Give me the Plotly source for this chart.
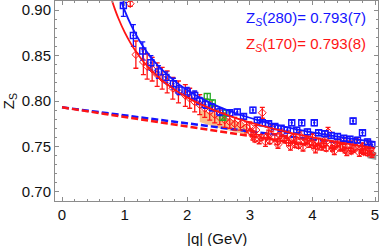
import plotly.graph_objects as go

# ---------------- data ----------------
blue_q = [0.98, 1.14, 1.29, 1.42, 1.54, 1.66, 1.78, 1.87, 2.0, 2.12, 2.2, 2.29, 2.4, 2.52,
          2.68, 2.8, 2.9, 3.05, 3.12, 3.2, 3.3, 3.4, 3.5, 3.6, 3.67, 3.75, 3.83, 3.92, 4.03,
          4.1, 4.2, 4.3, 4.4, 4.5, 4.6, 4.65, 4.72, 4.8, 4.88, 4.95]
blue_z = [0.905, 0.872, 0.855, 0.842, 0.832, 0.826, 0.819, 0.812, 0.810, 0.806, 0.800, 0.796,
          0.793, 0.788, 0.787, 0.788, 0.783, 0.790, 0.779, 0.776, 0.775, 0.772, 0.770, 0.768,
          0.776, 0.768, 0.776, 0.766, 0.776, 0.765, 0.764, 0.762, 0.761, 0.759, 0.758, 0.778,
          0.757, 0.765, 0.755, 0.752]
blue_err = [0.012, 0.012, 0.010, 0.008, 0.007, 0.006, 0.006, 0.005, 0.005, 0.005, 0.004, 0.004,
            0.004, 0.004, 0.003, 0.003, 0.003, 0.003, 0.003, 0.003, 0.003, 0.003, 0.003, 0.003,
            0.003, 0.003, 0.003, 0.003, 0.003, 0.003, 0.003, 0.003, 0.003, 0.003, 0.003, 0.003,
            0.003, 0.003, 0.003, 0.003]

red_q = [1.09, 1.18, 1.30, 1.36, 1.44, 1.52, 1.60, 1.68, 1.77, 1.86, 1.97, 2.04, 2.12, 2.20,
         2.28, 2.36, 2.44, 2.52, 2.60, 2.68, 2.76, 2.85, 2.95, 3.00, 3.05, 3.10, 3.15, 3.20,
         3.25, 3.30, 3.35, 3.40, 3.45, 3.50, 3.55, 3.60, 3.65, 3.70, 3.75, 3.80, 3.85, 3.90,
         3.95, 4.00, 4.05, 4.10, 4.15, 4.20, 4.25, 4.30, 4.35, 4.40, 4.45, 4.50, 4.55, 4.60,
         4.65, 4.70, 4.75, 4.80, 4.85, 4.90, 4.95,
         3.02, 3.18, 3.32, 3.48, 3.62, 3.78, 3.92, 4.08, 4.22, 4.38, 4.52, 4.68, 4.82, 4.92,
         3.08, 3.28, 3.44, 3.58, 3.72, 3.88, 4.02, 4.18, 4.32, 4.48, 4.62, 4.78, 4.88]
red_z = [0.907, 0.851, 0.843, 0.838, 0.835, 0.829, 0.825, 0.821, 0.814, 0.810, 0.806, 0.803,
         0.799, 0.796, 0.792, 0.789, 0.785, 0.782, 0.779, 0.777, 0.775, 0.774, 0.771, 0.772,
         0.762, 0.768, 0.758, 0.787, 0.755, 0.764, 0.770, 0.760, 0.752, 0.765, 0.758, 0.763,
         0.750, 0.760, 0.756, 0.762, 0.749, 0.758, 0.753, 0.760, 0.747, 0.755, 0.750, 0.757,
         0.766, 0.752, 0.745, 0.754, 0.749, 0.756, 0.744, 0.752, 0.748, 0.755, 0.743, 0.750,
         0.746, 0.752, 0.742,
         0.766, 0.760, 0.756, 0.762, 0.754, 0.751, 0.756, 0.750, 0.748, 0.752, 0.746, 0.749,
         0.744, 0.747,
         0.758, 0.761, 0.755, 0.757, 0.752, 0.755, 0.751, 0.753, 0.748, 0.750, 0.745, 0.748,
         0.743]
red_err = [0.003, 0.015, 0.014, 0.014, 0.013, 0.013, 0.012, 0.012, 0.012, 0.012, 0.012, 0.011,
           0.011, 0.011, 0.010, 0.010, 0.009, 0.008, 0.008, 0.007, 0.007, 0.006, 0.006, 0.005,
           0.005, 0.005, 0.005, 0.006, 0.005, 0.004, 0.004, 0.004, 0.004, 0.004, 0.004, 0.004,
           0.004, 0.004, 0.004, 0.004, 0.004, 0.004, 0.004, 0.004, 0.004, 0.004, 0.004, 0.004,
           0.005, 0.004, 0.004, 0.004, 0.004, 0.004, 0.004, 0.004, 0.004, 0.004, 0.004, 0.004,
           0.004, 0.004, 0.004,
           0.003, 0.003, 0.003, 0.003, 0.003, 0.003, 0.003, 0.003, 0.003, 0.003, 0.003, 0.003,
           0.003, 0.003,
           0.003, 0.003, 0.003, 0.003, 0.003, 0.003, 0.003, 0.003, 0.003, 0.003, 0.003, 0.003,
           0.003]

green_q = [2.32, 2.40, 2.57, 2.62]
green_z = [0.805, 0.798, 0.782, 0.787]
green_err = [0.003, 0.003, 0.002, 0.003]

# fit curves
fit_blue_q = [0.95, 1.0, 1.1, 1.2, 1.3, 1.4, 1.5, 1.6, 1.8, 2.0, 2.2, 2.5, 2.8, 3.2, 3.6, 4.0, 4.5, 5.0]
fit_blue_z = [0.9088, 0.8997, 0.8839, 0.8707, 0.8595, 0.8499, 0.8415, 0.8342, 0.8219, 0.8120,
              0.8039, 0.7939, 0.7860, 0.7776, 0.7709, 0.7654, 0.7597, 0.7550]
fit_red_q = [0.80, 0.85, 0.9, 1.0, 1.1, 1.2, 1.3, 1.4, 1.5, 1.6, 1.8, 2.0, 2.2, 2.5, 2.8, 3.2, 3.6, 4.0, 4.5, 5.0]
fit_red_z = [0.9100, 0.8999, 0.8910, 0.8757, 0.8631, 0.8525, 0.8435, 0.8356, 0.8288, 0.8227,
             0.8124, 0.8040, 0.7968, 0.7880, 0.7807, 0.7726, 0.7658, 0.7600, 0.7536, 0.7479]

lin_q = [0.0, 5.0]
lin_blue_z = [0.793, 0.749]
lin_red_z = [0.793, 0.7405]

orange_q = [2.2, 2.45, 2.7, 2.95, 2.95, 2.7, 2.45, 2.2]
orange_z = [0.790, 0.786, 0.780, 0.774, 0.763, 0.767, 0.771, 0.777]
gray_q = [4.88, 5.02, 5.02, 4.88]
gray_z = [0.745, 0.744, 0.735, 0.737]

label_blue = "Z<sub><i>S</i></sub>(280)= 0.793(7)"
label_red = "Z<sub><i>S</i></sub>(170)= 0.793(8)"

BLUE = "#1414ff"
RED = "#ff1414"
GREEN = "#22aa22"
FONT = "Liberation Sans, Arial, sans-serif"

fig = go.Figure()

fig.add_trace(go.Scatter(x=orange_q, y=orange_z, fill="toself", mode="lines",
                         line=dict(width=0), fillcolor="rgba(245,170,100,0.75)"))
fig.add_trace(go.Scatter(x=gray_q, y=gray_z, fill="toself", mode="lines",
                         line=dict(width=0), fillcolor="rgba(140,140,140,0.9)"))

fig.add_trace(go.Scatter(x=lin_q, y=lin_blue_z, mode="lines",
                         line=dict(color=BLUE, width=2.5, dash="7px,3px")))
fig.add_trace(go.Scatter(x=lin_q, y=lin_red_z, mode="lines",
                         line=dict(color=RED, width=2.5, dash="7px,3px")))

fig.add_trace(go.Scatter(x=red_q, y=red_z, mode="markers",
                         marker=dict(symbol="diamond-open", size=6, color=RED, line=dict(width=1)),
                         error_y=dict(type="data", array=red_err, color=RED, thickness=1.3, width=2.5)))
fig.add_trace(go.Scatter(x=green_q, y=green_z, mode="markers",
                         marker=dict(symbol="square-open", size=6, color=GREEN, line=dict(width=1.3)),
                         error_y=dict(type="data", array=green_err, color=GREEN, thickness=1.2, width=2)))
fig.add_trace(go.Scatter(x=blue_q, y=blue_z, mode="markers",
                         marker=dict(symbol="square-open-dot", size=6, color=BLUE, line=dict(width=1.4)),
                         error_y=dict(type="data", array=blue_err, color=BLUE, thickness=1.3, width=2.5)))

fig.add_trace(go.Scatter(x=fit_red_q, y=fit_red_z, mode="lines", line=dict(color=RED, width=1.8, shape="spline")))
fig.add_trace(go.Scatter(x=fit_blue_q, y=fit_blue_z, mode="lines", line=dict(color=BLUE, width=1.8, shape="spline")))

axis_common = dict(showline=True, linecolor="#8c8c8c", linewidth=1, mirror="ticks",
                   ticks="inside", ticklen=4, tickcolor="#8c8c8c", tickwidth=1,
                   showgrid=False, zeroline=False, automargin=False,
                   tickfont=dict(family=FONT, size=15, color="#111"))

fig.update_xaxes(range=[-0.112, 5.048], dtick=1, tick0=0,
                 minor=dict(ticks="inside", ticklen=2, dtick=0.2, tick0=0, tickcolor="#8c8c8c", showgrid=False),
                 **axis_common)
fig.update_yaxes(range=[0.690, 0.910], dtick=0.05, tick0=0.7, tickformat=".2f",
                 minor=dict(ticks="inside", ticklen=2, dtick=0.01, tick0=0.7, tickcolor="#8c8c8c", showgrid=False),
                 **axis_common)

fig.update_layout(
    width=382, height=246,
    margin=dict(l=55, r=4, t=1, b=45, autoexpand=False),
    paper_bgcolor="white", plot_bgcolor="white",
    showlegend=False, hovermode=False,
    font=dict(family=FONT, size=15, color="#111"),
    annotations=[
        dict(text=label_blue, xref="paper", yref="paper", x=0.969, y=0.91, xanchor="right",
             yanchor="middle", showarrow=False, font=dict(family=FONT, size=15, color=BLUE)),
        dict(text=label_red, xref="paper", yref="paper", x=0.969, y=0.78, xanchor="right",
             yanchor="middle", showarrow=False, font=dict(family=FONT, size=15, color=RED)),
        dict(text="Z<sub>S</sub>", xref="paper", yref="paper", x=-0.142, y=0.5, xanchor="center",
             yanchor="middle", textangle=-90, showarrow=False, font=dict(family=FONT, size=15, color="#111")),
        dict(text="|q| (GeV)", xref="paper", yref="paper", x=0.5, y=-0.185, xanchor="center",
             yanchor="middle", showarrow=False, font=dict(family=FONT, size=15, color="#111")),
    ],
)

fig.write_html("out.html", config={"displayModeBar": False, "staticPlot": True},
               post_script="document.body.style.margin='0';document.body.style.overflow='hidden';")
